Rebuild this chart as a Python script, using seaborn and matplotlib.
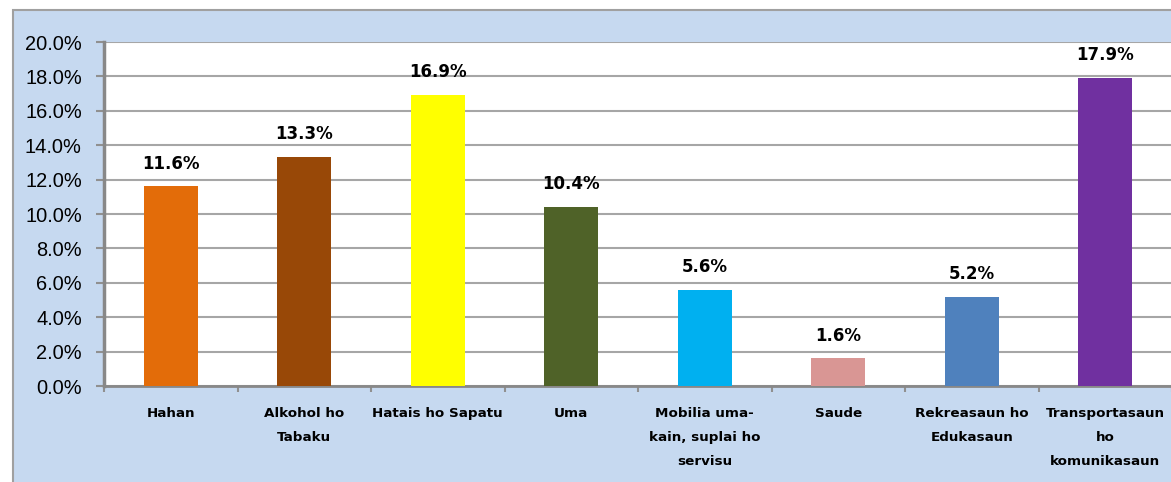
import matplotlib.pyplot as plt
import matplotlib.patches as mpatches
import numpy as np
import pandas as pd
import seaborn as sns

categories = ["Hahan", "Alkohol ho\nTabaku", "Hatais ho Sapatu", "Uma",
              "Mobilia uma-\nkain, suplai ho\nservisu", "Saude",
              "Rekreasaun ho\nEdukasaun", "Transportasaun\nho\nkomunikasaun"]
values = [11.6, 13.3, 16.9, 10.4, 5.6, 1.6, 5.2, 17.9]
colors = ["#e36c09", "#984807", "#ffff00", "#4f6228",
          "#00b0f0", "#d99694", "#4f81bd", "#7030a0"]
yticks = [0, 2, 4, 6, 8, 10, 12, 14, 16, 18, 20]

df = pd.DataFrame({"cat": categories, "val": values})

sns.set_style("white")
plt.rcParams["text.color"] = "black"
plt.rcParams["xtick.color"] = "black"
plt.rcParams["ytick.color"] = "black"
W, H = 1171, 482
fig = plt.figure(figsize=(W / 100, H / 100), dpi=100)
fig.patch.set_facecolor("white")

# light blue chart area with grey border (cropped on right/bottom)
bg = mpatches.Rectangle((13 / W, -0.05), 1.2, 1 - 10 / H + 0.05,
                        transform=fig.transFigure, facecolor="#c6d9f0",
                        edgecolor="#a0a0a0", linewidth=1.5, zorder=-5)
fig.patches.append(bg)

ax = fig.add_axes([104 / W, (H - 386) / H, (1172 - 104) / W, (386 - 42) / H])
ax.set_zorder(2)
ax.set_facecolor("white")
sns.barplot(data=df, x="cat", y="val", hue="cat", palette=colors,
            width=0.405, legend=False, saturation=1, linewidth=0,
            ax=ax, zorder=3)

ax.set_xlim(-0.5, 7.5)
ax.set_ylim(0, 20)
ax.set_yticks(yticks)
ax.set_yticklabels([f"{v:.1f}%" for v in yticks], family="Liberation Sans",
                   fontsize=14.4, color="black")
ax.yaxis.grid(True, color="#a6a6a6", linewidth=1.5, zorder=0)
ax.set_axisbelow(True)

ax.set_xticks(range(len(categories)))
ax.set_xticklabels(categories, fontsize=9.7, fontweight="bold",
                   linespacing=2.1, va="top", color="black")
ax.set_xticks(np.arange(-0.5, len(categories), 1), minor=True)
ax.tick_params(axis="x", which="major", length=0, pad=15)
ax.tick_params(axis="x", which="minor", length=4, width=1.5, color="#909090",
               direction="out", bottom=True)
ax.tick_params(axis="y", length=6, width=1.5, color="#909090", pad=10,
               direction="out", left=True, labelcolor="black")

for s in ["top", "right"]:
    ax.spines[s].set_visible(False)
ax.spines["left"].set_color("#888888")
ax.spines["left"].set_linewidth(2.5)
ax.spines["bottom"].set_color("#888888")
ax.spines["bottom"].set_linewidth(2)

for i, v in enumerate(values):
    ax.annotate(f"{v:.1f}%", (i, v), xytext=(0, 10), textcoords="offset points",
                ha="center", va="bottom", fontsize=12, fontweight="bold",
                color="black")

ax.set_xlabel("")
ax.set_ylabel("")
fig.savefig("out.png", dpi=100)
